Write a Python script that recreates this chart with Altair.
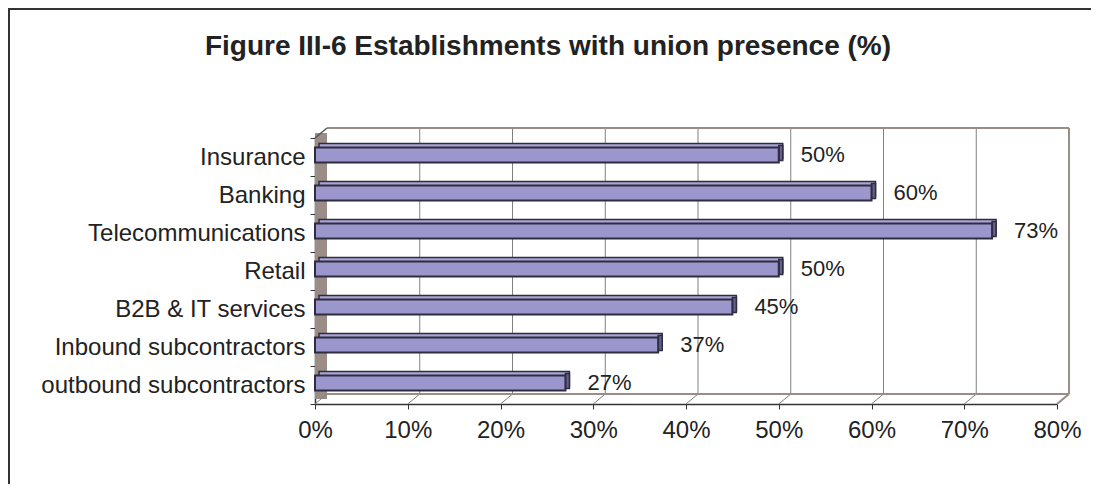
import altair as alt
import pandas as pd

categories = [
    "Insurance",
    "Banking",
    "Telecommunications",
    "Retail",
    "B2B & IT services",
    "Inbound subcontractors",
    "outbound subcontractors",
]
values = [50, 60, 73, 50, 45, 37, 27]
x_ticks = [0, 10, 20, 30, 40, 50, 60, 70, 80]
title_text = "Figure III-6 Establishments with union presence (%)"

W, H = 742, 266
DX, DY = 12, 10
FONT = "Liberation Sans"
WALL = "#9a8c86"
GRID = "#808080"
DARK = "#2f2c3f"

df = pd.DataFrame({"category": categories, "value": values})
df["label"] = df["value"].astype(str) + "%"
grid_df = pd.DataFrame({"pct": x_ticks})
inner_grid_df = pd.DataFrame({"pct": x_ticks[1:-1]})
one = pd.DataFrame({"t": [title_text]})

x_scale = alt.Scale(domain=[0, 80], nice=False, zero=True)
y_scale = alt.Scale(domain=categories, paddingInner=0, paddingOuter=0)

x_axis = alt.Axis(
    title=None,
    values=x_ticks,
    labelExpr="datum.value + '%'",
    labelFlush=False,
    labelOverlap=False,
    grid=False,
    tickSize=5,
    tickColor="#333333",
    domainColor="#333333",
    domainWidth=1.5,
    labelFont=FONT,
    labelFontSize=24,
    labelColor="#222222",
    labelPadding=9,
)
y_axis = alt.Axis(
    title=None,
    tickBand="extent",
    tickSize=5,
    tickColor="#333333",
    domainColor="#333333",
    domainWidth=1.5,
    labelFont=FONT,
    labelFontSize=24,
    labelColor="#222222",
    labelPadding=5,
    labelLimit=0,
    grid=False,
)


def xq(field):
    return alt.X(field, type="quantitative", scale=x_scale, axis=x_axis, title=None)


frame = alt.Chart(one).mark_rect(fillOpacity=0, stroke="#333333", strokeWidth=2).encode(
    x=alt.value(-306), x2=alt.value(W + 60), y=alt.value(-129), y2=alt.value(H + 120)
)

left_wall = alt.Chart(one).mark_rect(color=WALL).encode(
    x=alt.value(0), x2=alt.value(DX), y=alt.value(-5), y2=alt.value(H - 5)
)

back_grid = alt.Chart(inner_grid_df).mark_rule(color=GRID, strokeWidth=1, xOffset=DX).encode(
    x=xq("pct"),
    y=alt.value(-DY),
    y2=alt.value(H - DY),
)

floor_diag = alt.Chart(grid_df).mark_rule(color=GRID, strokeWidth=1, x2Offset=DX).encode(
    x=xq("pct"),
    x2=alt.X2("pct"),
    y=alt.value(H),
    y2=alt.value(H - DY),
)


def wall_line(x1, x2, y1, y2, color=WALL, w=2):
    return alt.Chart(one).mark_rule(color=color, strokeWidth=w).encode(
        x=alt.value(x1), x2=alt.value(x2), y=alt.value(y1), y2=alt.value(y2)
    )


wall_top = wall_line(DX, W + DX, -DY, -DY)
wall_right = wall_line(W + DX, W + DX, -DY, H - DY)
floor_back = wall_line(DX, W + DX, H - DY, H - DY)
floor_right = wall_line(W, W + DX, H, H - DY)
wall_slant = wall_line(0, DX, 0, -DY, color="#555555", w=1.5)

base = alt.Chart(df)
y_enc = alt.Y("category:N", scale=y_scale, sort=categories, axis=y_axis)

bar_back = base.mark_bar(
    size=15, xOffset=4, x2Offset=4, yOffset=-6, fill="#aaa5d6", stroke=DARK, strokeWidth=1.5
).encode(x=xq("value"), y=y_enc)

bar_end = base.mark_bar(
    size=15, x2Offset=4, yOffset=-4, fill="#65618e", stroke=DARK, strokeWidth=1.5
).encode(x=xq("value"), x2=alt.X2("value"), y=y_enc)

bar_front = base.mark_bar(
    size=15, yOffset=-2, fill="#9b97cc", stroke=DARK, strokeWidth=2
).encode(x=xq("value"), y=y_enc)

labels = base.mark_text(
    align="left", baseline="middle", dx=22, dy=-2, fontSize=22, font=FONT, color="#222222"
).encode(x=xq("value"), y=y_enc, text="label:N")

title = alt.Chart(one).mark_text(
    fontSize=28, fontWeight="bold", font=FONT, color="#222222", align="center", baseline="middle"
).encode(x=alt.value(233), y=alt.value(-91), text="t:N")

chart = alt.layer(
    frame,
    left_wall,
    back_grid,
    floor_diag,
    wall_top,
    wall_right,
    floor_back,
    floor_right,
    wall_slant,
    bar_back,
    bar_end,
    bar_front,
    labels,
    title,
).properties(
    width=W,
    height=H,
    padding={"left": 307, "top": 130, "right": 34, "bottom": 80},
    autosize=alt.AutoSizeParams(type="none"),
).configure_view(stroke=None)

chart.save("out.html", embed_options={"renderer": "svg", "actions": False})
